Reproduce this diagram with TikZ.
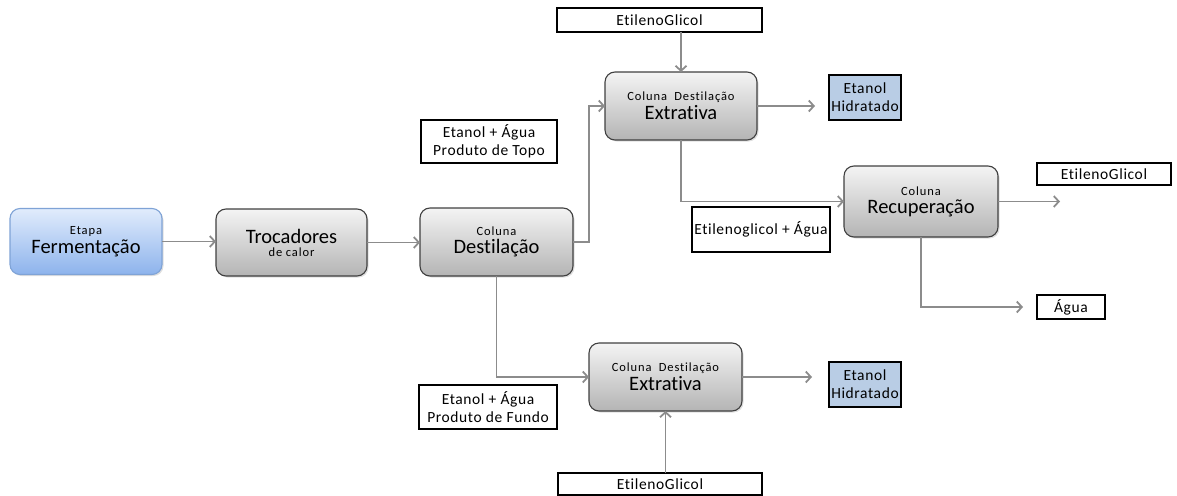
\documentclass[tikz,border=0pt]{standalone}
\usepackage{fontspec}
\setmainfont{Carlito}[Ligatures={NoCommon,NoRare}]
\usetikzlibrary{arrows.meta,shadows,calc}
\definecolor{arrgray}{HTML}{8C8C8C}
\definecolor{boxedge}{HTML}{404040}
\definecolor{blueedge}{HTML}{7FA3D6}
\definecolor{bluetop}{HTML}{E1ECFC}
\definecolor{bluebot}{HTML}{8DB3EC}
\definecolor{graytop}{HTML}{F4F4F4}
\definecolor{graybot}{HTML}{B4B4B4}
\definecolor{hidfill}{HTML}{B9CDE5}
\newcommand{\smtxt}{\fontsize{12.5}{14}\selectfont\addfontfeature{LetterSpace=7}}
\newcommand{\bgtxt}{\fontsize{20.5}{22}\selectfont}
\newcommand{\lbtxt}{\fontsize{15.5}{18}\selectfont\addfontfeature{LetterSpace=4}}
\tikzset{
  procbox/.style={rounded corners=10pt, draw=boxedge, line width=1.1pt,
    top color=graytop, bottom color=graybot, inner sep=0pt, outer sep=0pt,
    align=center, drop shadow={opacity=0.25, shadow xshift=1.5pt, shadow yshift=-1.5pt}},
  fermbox/.style={procbox, draw=blueedge, top color=bluetop, bottom color=bluebot},
  labbox/.style={draw=black, line width=1.6pt, fill=white, inner sep=0pt, outer sep=0pt,
    align=center, font=\lbtxt},
  hidbox/.style={labbox, fill=hidfill},
  arr/.style={draw=arrgray, line width=1.8pt, -{Straight Barb[length=5pt,width=11pt]}}
}
\begin{document}
\begin{tikzpicture}[x=1pt,y=-1pt]
\useasboundingbox (0,0) rectangle (1177,495);
% process boxes
\node[fermbox, minimum width=152pt, minimum height=66pt] (ferm) at (86,241.5)
  {{\smtxt Etapa}\\[2pt]{\bgtxt Fermentação}};
\node[procbox, minimum width=151pt, minimum height=67pt] (troc) at (291.5,242.5)
  {{\bgtxt Trocadores}\\[1pt]{\smtxt de calor}};
\node[procbox, minimum width=153pt, minimum height=68pt] (dest) at (496.5,242)
  {{\smtxt Coluna}\\[2pt]{\bgtxt Destilação}};
\node[procbox, minimum width=152pt, minimum height=68pt] (ext1) at (681,106)
  {{\smtxt Coluna\ \ Destilação}\\[2pt]{\bgtxt Extrativa}};
\node[procbox, minimum width=154pt, minimum height=71pt] (rec) at (921,201.5)
  {{\smtxt Coluna}\\[3pt]{\bgtxt Recuperação}};
\node[procbox, minimum width=153pt, minimum height=68pt] (ext2) at (665.5,377)
  {{\smtxt Coluna\ \ Destilação}\\[2pt]{\bgtxt Extrativa}};
% label boxes
\node[labbox, minimum width=205pt, minimum height=24pt] (eg1) at (659.5,20) {EtilenoGlicol};
\node[labbox, minimum width=136pt, minimum height=43pt] (topo) at (489,141.5) {Etanol + Água\\Produto de Topo};
\node[hidbox, minimum width=72pt, minimum height=45pt] (hid1) at (865,97.5) {Etanol\\Hidratado};
\node[labbox, minimum width=134pt, minimum height=22pt] (eg2) at (1104,174) {EtilenoGlicol};
\node[labbox, minimum width=68pt, minimum height=24pt] (agua) at (1071,307) {Água};
\node[labbox, minimum width=138pt, minimum height=45pt] (egag) at (761,229.5) {Etilenoglicol + Água};
\node[labbox, minimum width=138pt, minimum height=44pt] (fundo) at (488,407) {Etanol + Água\\Produto de Fundo};
\node[labbox, minimum width=204pt, minimum height=22pt] (eg3) at (660,484) {EtilenoGlicol};
\node[hidbox, minimum width=72pt, minimum height=45pt] (hid2) at (865,384.5) {Etanol\\Hidratado};
% free ends
\coordinate (e1out) at (815,106);
\coordinate (recout) at (1060,201.5);
\coordinate (aguaout) at (1023,307);
\coordinate (e2out) at (812,377);
% connectors
\draw[arr] (ferm.east) -- (troc.west |- ferm.east);
\draw[arr] (troc.east) -- (dest.west |- troc.east);
\draw[arr] (dest.east) -- ++(16,0) |- (ext1.west);
\draw[arr] (ext1.north |- eg1.south) -- (ext1.north);
\draw[arr] (ext1.east) -- (e1out);
\draw[arr] (ext1.south) |- (rec.west);
\draw[arr] (rec.east) -- (recout);
\draw[arr] (rec.south) |- (aguaout);
\draw[arr] (dest.south) |- (ext2.west);
\draw[arr] (ext2.east) -- (e2out);
\draw[arr] (ext2.south |- eg3.north) -- (ext2.south);
\end{tikzpicture}
\end{document}
